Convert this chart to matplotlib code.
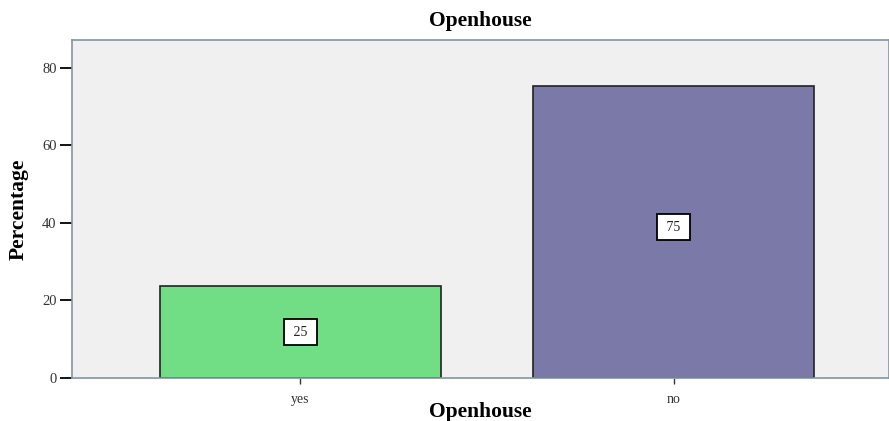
import matplotlib
matplotlib.use("Agg")
import matplotlib.pyplot as plt

categories = ["yes", "no"]
percent = [23.6, 75.3]
bar_labels = ["25", "75"]
yticks = [0, 20, 40, 60, 80]
colors = ["#71DD84", "#7B79A8"]

plt.rcParams["font.family"] = ["Liberation Serif", "DejaVu Serif"]

fig = plt.figure(figsize=(8.89, 4.21), dpi=100)
ax = fig.add_axes([72 / 889, 43 / 421, 1 - 72 / 889, 338 / 421])
ax.set_facecolor("#F0F0F0")

x = list(range(len(categories)))
ax.bar(x, percent, width=0.753, color=colors, edgecolor="#222222", linewidth=1.2, zorder=2)
for xi, v, lab in zip(x, percent, bar_labels):
    # pad the label with spaces so the box is wider than tall, like SPSS
    ax.text(xi, v / 2 + 1.2 * (v > 50), " " + lab + " ", ha="center", va="center",
            fontsize=10, color="#222222", zorder=3,
            bbox=dict(boxstyle="square,pad=0.45", fc="white", ec="black", lw=1.3))

ax.set_xlim(-0.611, 1.576)
ax.set_ylim(0, 87.1)
ax.set_xticks(x)
ax.set_xticklabels(categories, fontsize=10, color="#333333")
ax.set_yticks(yticks)
ax.set_yticklabels([str(t) for t in yticks], fontsize=10.5, color="#333333")
ax.tick_params(axis="y", length=9, width=1.3, color="black", pad=2)
ax.tick_params(axis="x", length=4, width=1.0, color="#333333", pad=7)

for s in ax.spines.values():
    s.set_color("#8494A4")
    s.set_linewidth(1.2)

ax.set_title("Openhouse", fontsize=15.5, fontweight="bold", pad=10)
ax.set_xlabel("Openhouse", fontsize=15.5, fontweight="bold", labelpad=-3)
ax.set_ylabel("Percentage", fontsize=15.5, fontweight="bold", labelpad=10)

fig.savefig("out.png", dpi=100)
